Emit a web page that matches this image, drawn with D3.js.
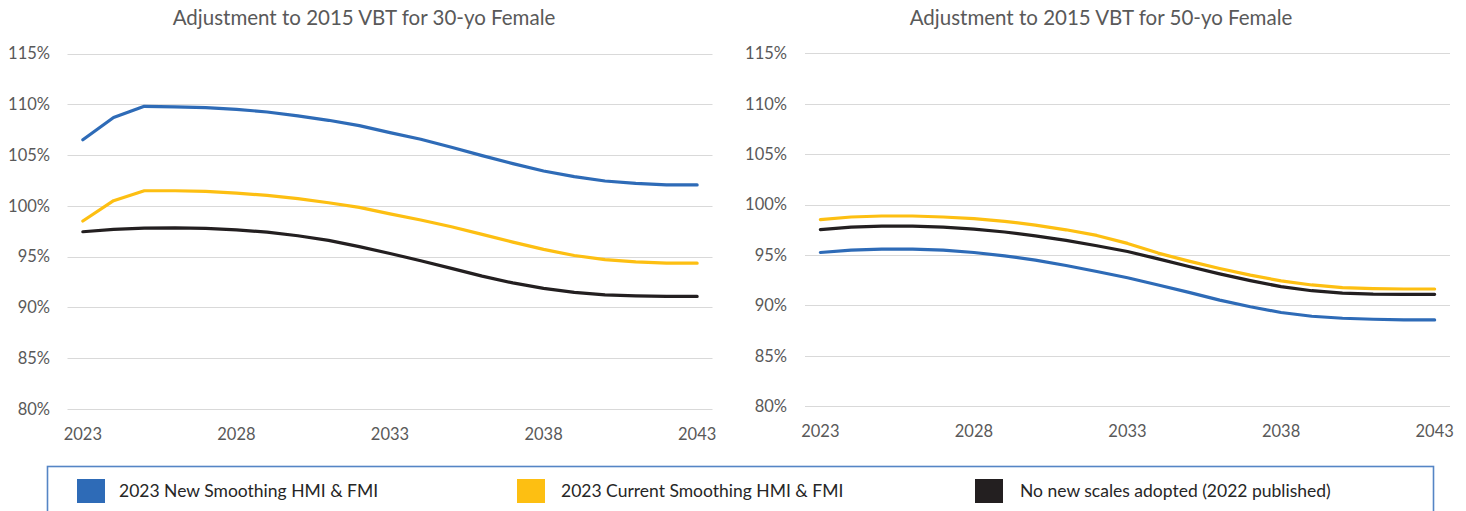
<!DOCTYPE html>
<html><head><meta charset="utf-8">
<script src="https://cdn.jsdelivr.net/npm/d3@7"></script>
<style>
html,body{margin:0;padding:0;background:#fff;}
svg{display:block;font-family:Lato, "Open Sans", sans-serif;}
</style></head>
<body>
<svg id="chart" width="1466" height="511"></svg>
<script>
const years = [2023,2024,2025,2026,2027,2028,2029,2030,2031,2032,2033,2034,2035,2036,2037,2038,2039,2040,2041,2042,2043];
const xTickLabels = [2023,2028,2033,2038,2043];
const yTicks = [80,85,90,95,100,105,110,115];

const seriesNames = ["2023 New Smoothing HMI & FMI","2023 Current Smoothing HMI & FMI","No new scales adopted (2022 published)"];
const seriesColors = ["#2E6BB7","#FDBF12","#231F20"];

const titles = ["Adjustment to 2015 VBT for 30-yo Female","Adjustment to 2015 VBT for 50-yo Female"];

// 30-yo Female
const female30New     = [106.5,108.7,109.8,109.75,109.67,109.5,109.24,108.85,108.42,107.9,107.2,106.55,105.76,104.94,104.15,103.43,102.87,102.44,102.2,102.05,102.05];
const female30Current = [98.5,100.5,101.48,101.48,101.42,101.25,101.02,100.7,100.3,99.84,99.2,98.6,97.93,97.18,96.42,95.7,95.1,94.7,94.48,94.35,94.35];
const female30None    = [97.44,97.67,97.8,97.83,97.77,97.62,97.4,97.05,96.59,95.98,95.3,94.58,93.83,93.07,92.4,91.86,91.47,91.23,91.13,91.07,91.07];

// 50-yo Female
const female50New     = [95.25,95.48,95.58,95.58,95.48,95.25,94.92,94.49,93.96,93.36,92.75,92.03,91.3,90.53,89.87,89.3,88.93,88.73,88.63,88.56,88.56];
const female50Current = [98.5,98.77,98.87,98.87,98.77,98.6,98.34,97.97,97.5,96.94,96.15,95.19,94.39,93.66,93.0,92.43,92.03,91.77,91.67,91.63,91.63];
const female50None    = [97.51,97.77,97.87,97.87,97.77,97.57,97.28,96.9,96.45,95.92,95.35,94.62,93.86,93.13,92.46,91.86,91.46,91.23,91.13,91.1,91.1];

const panels = [
  {title: titles[0], series:[female30New,female30Current,female30None], x0:67.5, x1:712.5, yTop:53.5, yBot:408.8, labelX:50, titleX:364, xLabelY:440},
  {title: titles[1], series:[female50New,female50Current,female50None], x0:805, x1:1450, yTop:53.3, yBot:406.3, labelX:787, titleX:1101, xLabelY:437}
];

const svg = d3.select("#chart");
const textGray = "#595959";

panels.forEach(p => {
  const g = svg.append("g");
  const x = d3.scaleBand().domain(years).range([p.x0, p.x1]);
  const y = d3.scaleLinear().domain([80,115]).range([p.yBot, p.yTop]);
  const cx = d => x(d) + x.bandwidth()/2;

  // title
  g.append("text").attr("x", p.titleX).attr("y", 25)
    .attr("text-anchor","middle").attr("fill", textGray)
    .style("font-size","20.5px").text(p.title);

  // gridlines
  g.selectAll("line.grid").data(yTicks).enter().append("line")
    .attr("x1", p.x0).attr("x2", p.x1)
    .attr("y1", d => Math.round(y(d))+0.5).attr("y2", d => Math.round(y(d))+0.5)
    .attr("stroke","#D9D9D9").attr("stroke-width",1);

  // y labels
  g.selectAll("text.ylab").data(yTicks).enter().append("text")
    .attr("x", p.labelX).attr("y", d => y(d))
    .attr("dy","0.35em").attr("text-anchor","end")
    .attr("fill", textGray).style("font-size","16.5px")
    .text(d => d + "%");

  // x labels
  g.selectAll("text.xlab").data(xTickLabels).enter().append("text")
    .attr("x", d => cx(d)).attr("y", p.xLabelY)
    .attr("text-anchor","middle").attr("fill", textGray)
    .style("font-size","16.5px").text(d => d);

  const line = d3.line().x((d,i) => cx(years[i])).y(d => y(d)).curve(d3.curveLinear);
  p.series.forEach((s, si) => {
    g.append("path").attr("d", line(s)).attr("fill","none")
      .attr("stroke", seriesColors[si]).attr("stroke-width", 3.2)
      .attr("stroke-linecap","round").attr("stroke-linejoin","round");
  });
});

// legend
const lg = svg.append("g");
lg.append("rect").attr("x",47.5).attr("y",466.5).attr("width",1386).attr("height",70)
  .attr("fill","none").attr("stroke","#5585C5").attr("stroke-width",1.6);
const legendX = [77, 517, 975];
const legendTextX = [119, 561, 1020];
seriesNames.forEach((n,i) => {
  lg.append("rect").attr("x",legendX[i]).attr("y",479).attr("width",28).attr("height",24).attr("fill",seriesColors[i]);
  lg.append("text").attr("x",legendTextX[i]).attr("y",497).attr("fill","#262626")
    .style("font-size","17.5px").text(n);
});
</script>
</body></html>
